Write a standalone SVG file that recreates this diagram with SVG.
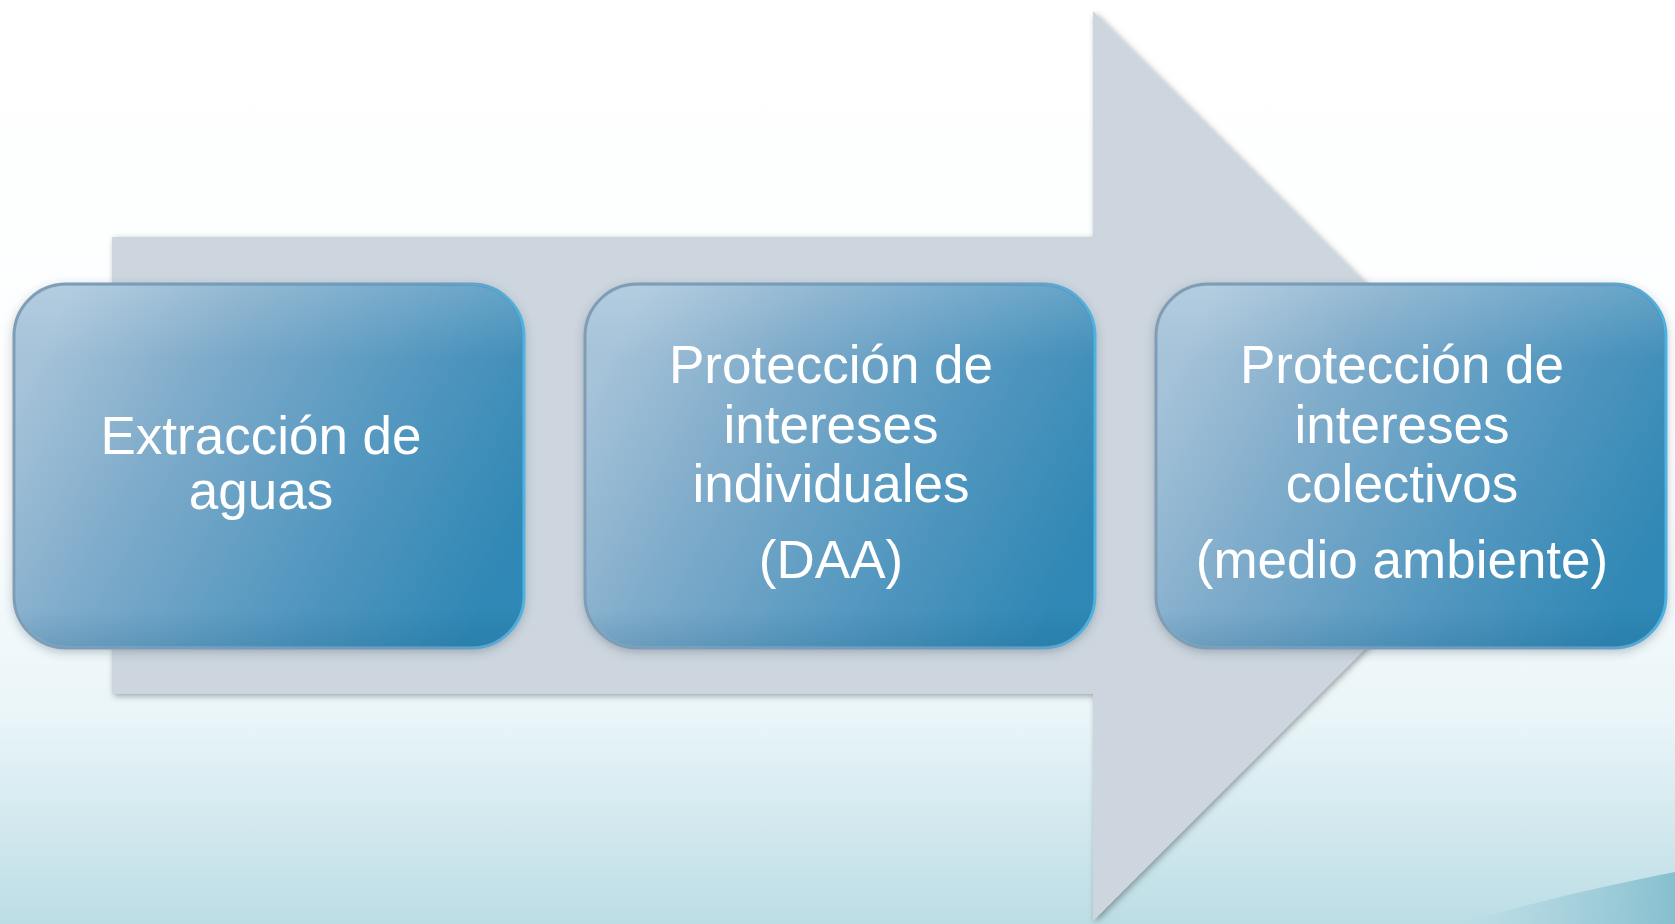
<svg xmlns="http://www.w3.org/2000/svg" width="1675" height="924" viewBox="0 0 1675 924">
  <defs>
    <linearGradient id="bg" x1="0" y1="0" x2="0" y2="1">
      <stop offset="0" stop-color="#ffffff"/>
      <stop offset="0.55" stop-color="#fbfdfe"/>
      <stop offset="0.78" stop-color="#e9f5f8"/>
      <stop offset="1" stop-color="#bcdde5"/>
    </linearGradient>
    <linearGradient id="wave" x1="0" y1="0" x2="1" y2="0">
      <stop offset="0" stop-color="#a9d3de" stop-opacity="0"/>
      <stop offset="0.5" stop-color="#9ccbd8" stop-opacity="0.7"/>
      <stop offset="1" stop-color="#86bfcf"/>
    </linearGradient>
    <linearGradient id="boxFill" x1="0" y1="0.3" x2="1" y2="0.7">
      <stop offset="0" stop-color="#a6c3d9"/>
      <stop offset="0.3" stop-color="#7eabca"/>
      <stop offset="0.65" stop-color="#5598c0"/>
      <stop offset="1" stop-color="#2e87b4"/>
    </linearGradient>
    <linearGradient id="boxStroke" x1="0" y1="0" x2="1" y2="0">
      <stop offset="0" stop-color="#7f9db5"/>
      <stop offset="0.85" stop-color="#6a9cc0"/>
      <stop offset="1" stop-color="#4fb2e0"/>
    </linearGradient>
    <linearGradient id="gloss" x1="0" y1="0" x2="0" y2="1">
      <stop offset="0" stop-color="#ffffff" stop-opacity="0.15"/>
      <stop offset="0.2" stop-color="#ffffff" stop-opacity="0"/>
      <stop offset="0.9" stop-color="#1d5f86" stop-opacity="0"/>
      <stop offset="1" stop-color="#1d5f86" stop-opacity="0.18"/>
    </linearGradient>
    <filter id="arrowShadow" x="-5%" y="-5%" width="110%" height="110%">
      <feDropShadow dx="2" dy="2" stdDeviation="3" flood-color="#000000" flood-opacity="0.35"/>
    </filter>
    <filter id="boxShadow" x="-5%" y="-5%" width="110%" height="115%">
      <feDropShadow dx="0" dy="3" stdDeviation="5" flood-color="#3a4a5a" flood-opacity="0.3"/>
    </filter>
  </defs>
  <style>
    .box { fill: url(#boxFill); stroke: url(#boxStroke); stroke-width: 3; filter: url(#boxShadow); }
    .gloss { fill: url(#gloss); stroke: none; }
    .label { fill: #ffffff; font-family: "Liberation Sans", Arial, sans-serif; font-size: 53px; text-anchor: middle; }
  </style>

  <rect x="0" y="0" width="1675" height="924" fill="url(#bg)"/>
  <path d="M1460,924 C1540,900 1610,885 1675,872 L1675,924 Z" fill="url(#wave)"/>

  <g id="connectors">
    <path id="process-arrow" d="M112,237 H1093 V11 L1548,466 L1093,921 V694 H112 Z" fill="#cdd6de" filter="url(#arrowShadow)"/>
  </g>

  <g id="node-1">
    <rect class="box" x="14" y="284" width="510" height="364" rx="52" ry="52"/>
    <rect class="gloss" x="16" y="286" width="506" height="360" rx="50" ry="50"/>
    <text class="label" x="261" y="454">Extracción de</text>
    <text class="label" x="261" y="509">aguas</text>
  </g>

  <g id="node-2">
    <rect class="box" x="585" y="284" width="510" height="364" rx="52" ry="52"/>
    <rect class="gloss" x="587" y="286" width="506" height="360" rx="50" ry="50"/>
    <text class="label" x="831" y="383">Protección de</text>
    <text class="label" x="831" y="443">intereses</text>
    <text class="label" x="831" y="502">individuales</text>
    <text class="label" x="831" y="578">(DAA)</text>
  </g>

  <g id="node-3">
    <rect class="box" x="1156" y="284" width="510" height="364" rx="52" ry="52"/>
    <rect class="gloss" x="1158" y="286" width="506" height="360" rx="50" ry="50"/>
    <text class="label" x="1402" y="383">Protección de</text>
    <text class="label" x="1402" y="443">intereses</text>
    <text class="label" x="1402" y="502">colectivos</text>
    <text class="label" x="1402" y="578">(medio ambiente)</text>
  </g>
</svg>
